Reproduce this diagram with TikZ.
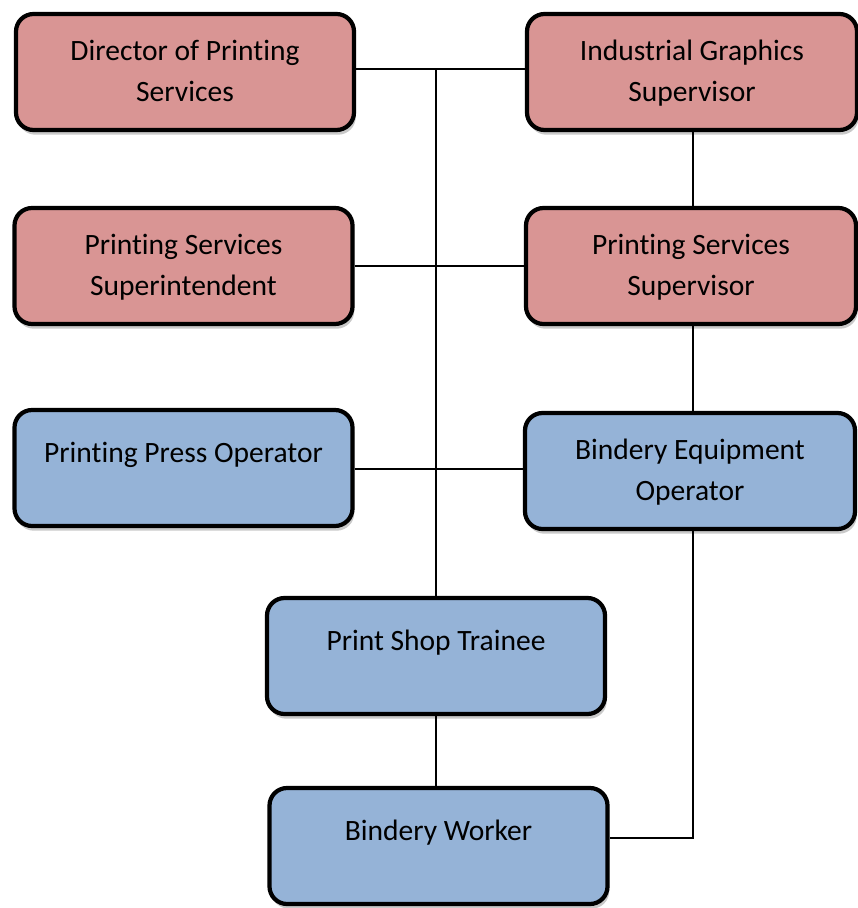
\documentclass[tikz,border=0pt]{standalone}
\usepackage{fontspec}
\setmainfont{Carlito}[Ligatures=NoCommon]
\usepackage{xcolor}
\usetikzlibrary{calc,shadows}
\definecolor{rosefill}{HTML}{D99594}
\definecolor{bluefill}{HTML}{95B3D7}
\tikzset{
  box/.style={draw=black, line width=3.6pt, rounded corners=15pt,
    minimum width=10.14cm, minimum height=3.48cm, inner sep=0pt,
    drop shadow={shadow xshift=1.5pt, shadow yshift=-4pt, opacity=0.3, fill=black!70}},
  narrow/.style={minimum width=9.9cm},
  rosebox/.style={box, fill=rosefill},
  bluebox/.style={box, fill=bluefill},
  txt/.style={anchor=north, yshift=-0.83cm, align=center, inner sep=0pt,
    font=\fontsize{25.2}{35}\selectfont},
  oneline/.style={txt, yshift=-0.18cm},
  link/.style={draw=black, line width=1.7pt},
}
\begin{document}
\begin{tikzpicture}[x=0.03cm, y=-0.03cm]
  \useasboundingbox (0,0) rectangle (857,908);
  % boxes
  \node[rosebox, label={[txt]north:Director of Printing\\Services}] (dir) at (185,72) {};
  \node[rosebox, narrow, label={[txt]north:Industrial Graphics\\Supervisor}] (igs) at (692,72) {};
  \node[rosebox, label={[txt]north:Printing Services\\Superintendent}] (supt) at (183.5,266) {};
  \node[rosebox, narrow, label={[txt]north:Printing Services\\Supervisor}] (psv) at (691,266) {};
  \node[bluebox, label={[oneline]north:Printing Press Operator}] (ppo) at (183.5,468) {};
  \node[bluebox, narrow, label={[txt]north:Bindery Equipment\\Operator}] (beo) at (690,471) {};
  \node[bluebox, label={[oneline]north:Print Shop Trainee}] (pst) at (436,656) {};
  \node[bluebox, label={[oneline]north:Bindery Worker}] (bw) at (438.5,846) {};
  % joints
  \coordinate (top) at ($(dir.east)+(0,-3)$);
  \coordinate (mid) at ($(ppo.east)+(0,1)$);
  \coordinate (low) at ($(bw.east)+(0,-8)$);
  % connectors
  \draw[link] (top) -- (top -| igs.west);
  \draw[link] (supt.east) -- (psv.west);
  \draw[link] (mid) -- (mid -| beo.west);
  \draw[link] (pst.north) -- (pst.north |- top);
  \draw[link] (igs.south -| 693,0) -- (psv.north -| 693,0);
  \draw[link] (psv.south -| 693,0) -- (beo.north -| 693,0);
  \draw[link] (beo.south -| 693,0) |- (low);
  \draw[link] (pst.south) -- (pst.south |- bw.north);
\end{tikzpicture}
\end{document}
